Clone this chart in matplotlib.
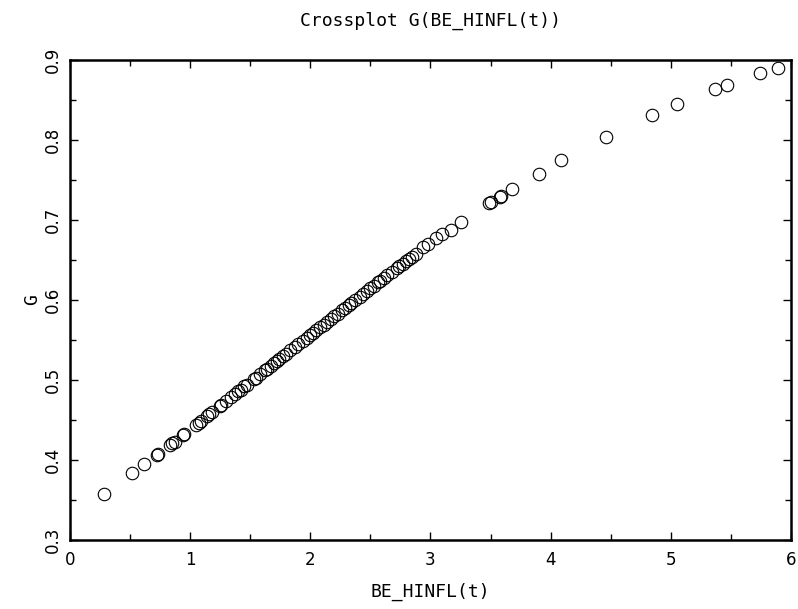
import matplotlib
matplotlib.use('Agg')
import matplotlib.pyplot as plt
from matplotlib.ticker import MultipleLocator

# BE_HINFL(t) vs G
be_hinfl = [0.28, 0.52, 0.62, 0.72, 0.73, 0.83, 0.85, 0.87, 0.94, 0.95,
            1.05, 1.07, 1.09, 1.14, 1.16, 1.18, 1.25, 1.26, 1.30, 1.34,
            1.37, 1.40, 1.42, 1.45, 1.47, 1.53, 1.55, 1.58, 1.62, 1.64,
            1.67, 1.70, 1.72, 1.74, 1.77, 1.80, 1.83, 1.87, 1.90, 1.94,
            1.97, 2.00, 2.02, 2.05, 2.08, 2.11, 2.14, 2.17, 2.20, 2.23,
            2.26, 2.29, 2.32, 2.34, 2.37, 2.41, 2.44, 2.47, 2.50, 2.53,
            2.56, 2.58, 2.61, 2.64, 2.68, 2.72, 2.74, 2.77, 2.80, 2.82,
            2.85, 2.88, 2.94, 2.98, 3.05, 3.10, 3.17, 3.25, 3.49, 3.50,
            3.58, 3.59, 3.68, 3.90, 4.09, 4.46, 4.84, 5.05, 5.37, 5.47,
            5.74, 5.89]
g_vals = [0.358, 0.384, 0.395, 0.406, 0.407, 0.419, 0.421, 0.423, 0.431, 0.432,
          0.444, 0.446, 0.449, 0.455, 0.457, 0.460, 0.468, 0.469, 0.474, 0.479,
          0.482, 0.486, 0.488, 0.492, 0.494, 0.501, 0.503, 0.507, 0.512, 0.514,
          0.518, 0.521, 0.524, 0.526, 0.530, 0.533, 0.537, 0.541, 0.545, 0.549,
          0.553, 0.556, 0.559, 0.562, 0.566, 0.569, 0.573, 0.576, 0.580, 0.583,
          0.587, 0.590, 0.594, 0.596, 0.600, 0.604, 0.608, 0.611, 0.615, 0.618,
          0.622, 0.624, 0.627, 0.631, 0.635, 0.640, 0.642, 0.645, 0.649, 0.651,
          0.654, 0.658, 0.666, 0.670, 0.677, 0.682, 0.688, 0.697, 0.721, 0.722,
          0.729, 0.730, 0.739, 0.7575, 0.775, 0.804, 0.831, 0.845, 0.864, 0.869,
          0.884, 0.890]

x_ticks = [0, 1, 2, 3, 4, 5, 6]
y_ticks = [0.3, 0.4, 0.5, 0.6, 0.7, 0.8, 0.9]

plt.rcParams['font.family'] = ['DejaVu Sans']
label_font = {'family': 'DejaVu Sans Mono', 'size': 13}

fig = plt.figure(figsize=(7.98, 6.09), dpi=100)
ax = fig.add_axes([0.0877, 0.1133, 0.9035, 0.7882])

ax.plot(be_hinfl, g_vals, linestyle='none', marker='o', markersize=9,
        markerfacecolor='none', markeredgecolor='black', markeredgewidth=0.8)

ax.set_xlim(0, 6)
ax.set_ylim(0.3, 0.9)
ax.set_xticks(x_ticks)
ax.set_yticks(y_ticks)
ax.set_xticklabels([str(v) for v in x_ticks])
ax.set_yticklabels(['%.1f' % v for v in y_ticks])
ax.xaxis.set_minor_locator(MultipleLocator(0.5))
ax.yaxis.set_minor_locator(MultipleLocator(0.05))

for sp in ax.spines.values():
    sp.set_linewidth(1.8)

ax.tick_params(which='both', direction='in', top=True, right=True,
               labelsize=12, width=1.0, colors='black')
ax.tick_params(which='major', length=6, pad=8)
ax.tick_params(which='minor', length=4)
ax.tick_params(axis='y', labelrotation=90, pad=6)
for lab in ax.get_yticklabels():
    lab.set_va('center')

ax.set_title('Crossplot G(BE_HINFL(t))', fontdict=label_font, pad=25)
ax.set_xlabel('BE_HINFL(t)', fontdict=label_font, labelpad=10)
ax.set_ylabel('G', fontdict=label_font, labelpad=2)

fig.savefig('out.png', dpi=100)
